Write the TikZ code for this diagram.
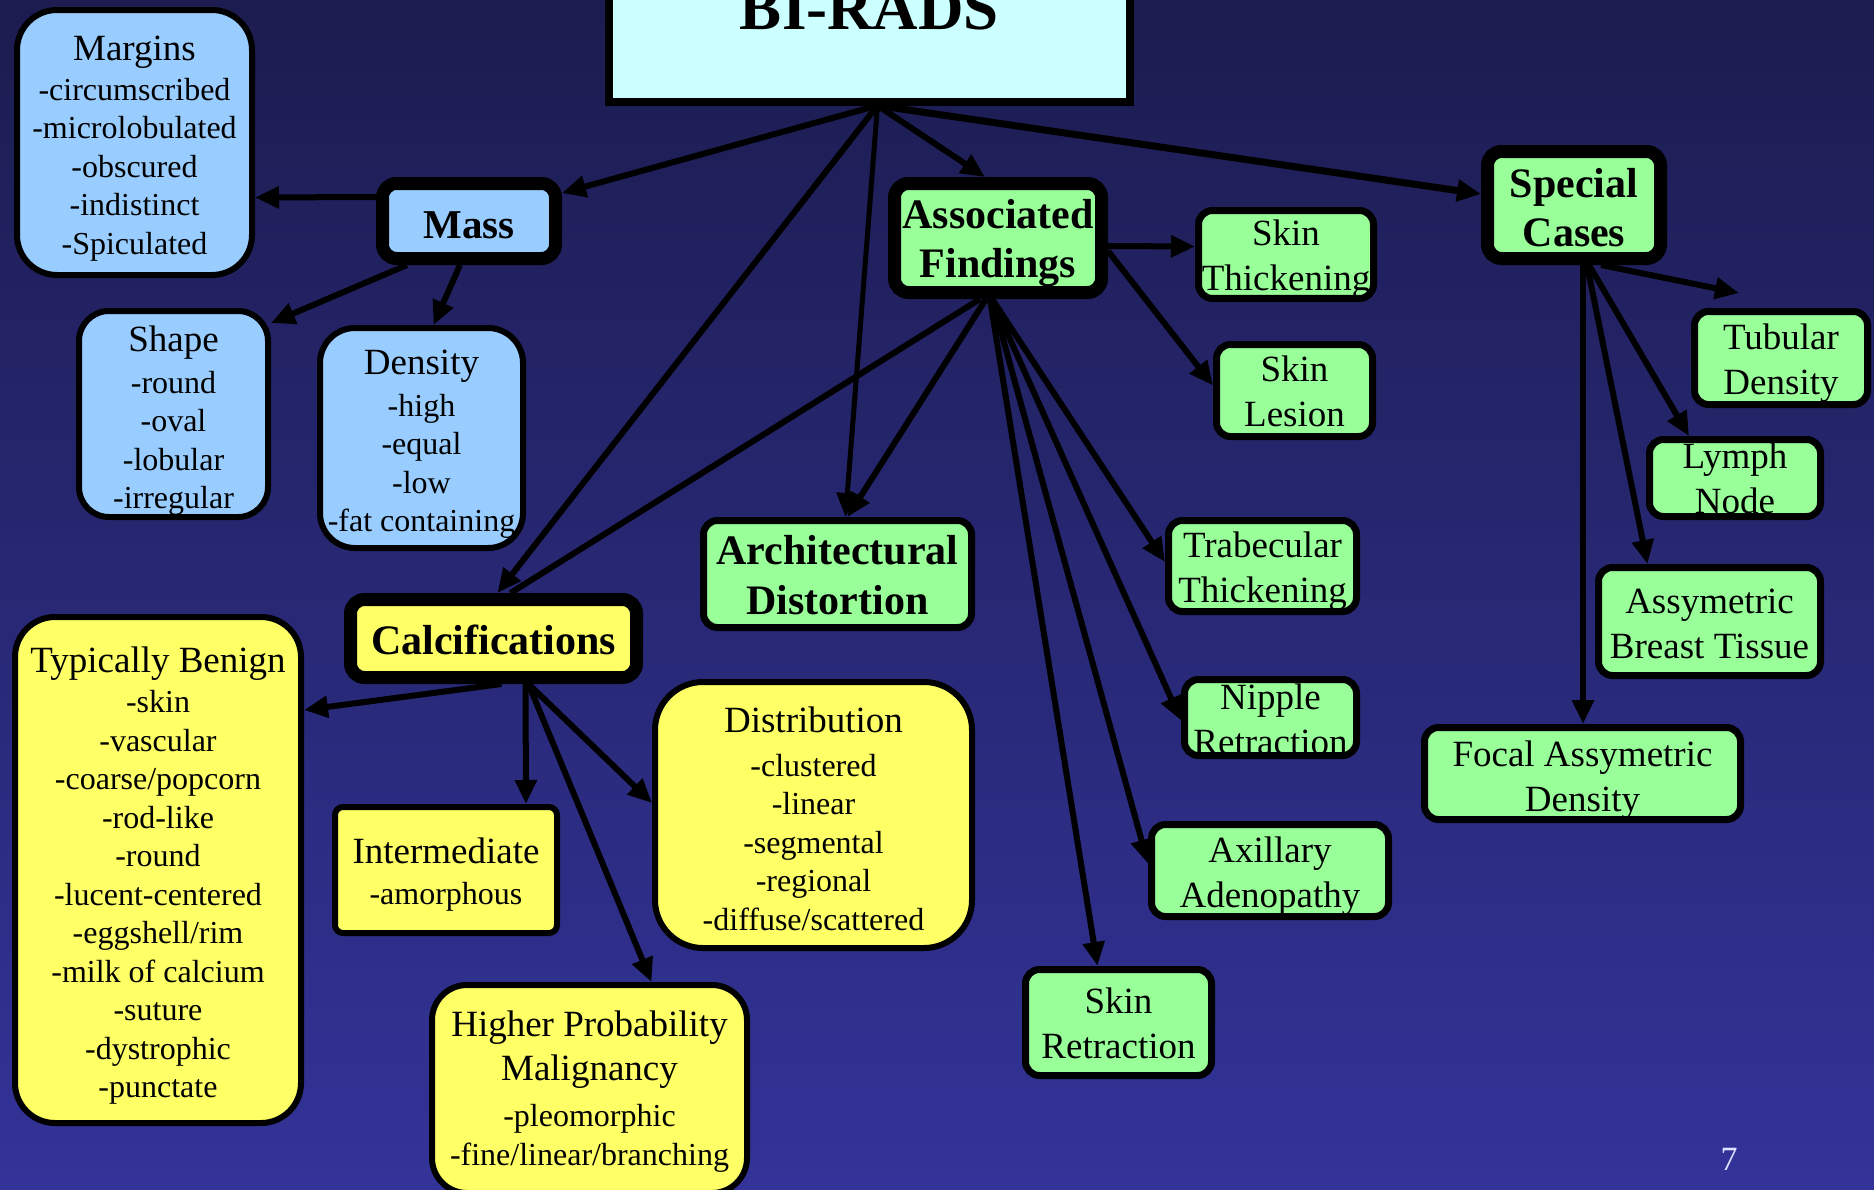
\documentclass[tikz,border=0pt]{standalone}
\usepackage{fontspec}
\setmainfont{Liberation Serif}
\usetikzlibrary{arrows.meta}
\definecolor{bgtop}{HTML}{1C1C50}
\definecolor{bgbot}{HTML}{333399}
\definecolor{cyanbox}{HTML}{CCFFFF}
\definecolor{bluebox}{HTML}{99CCFF}
\definecolor{yelbox}{HTML}{FFFF66}
\definecolor{grnbox}{HTML}{99FF99}
\newcommand{\hdr}[1]{{\fontsize{37}{40}\selectfont #1}}
\newcommand{\lift}[1]{\rule{0pt}{#1pt}}
\begin{document}
\begin{tikzpicture}[x=1pt,y=-1pt,
  thinbox/.style={draw=black, line width=6pt, inner sep=0pt, align=center, font=\fontsize{32}{38.5}\selectfont},
  greenbox/.style={draw=black, line width=7pt, fill=grnbox, rounded corners=14pt, inner sep=0pt, align=center, font=\fontsize{37}{45}\selectfont},
  thickbox/.style={draw=black, line width=13pt, rounded corners=14pt, inner sep=0pt, align=center, font=\bfseries\fontsize{42}{49}\selectfont},
  arr/.style={draw=black, line width=6pt, -{Triangle[length=24pt,width=21pt]}},
  plainline/.style={draw=black, line width=6pt}]
\useasboundingbox (0,0) rectangle (1874,1189);
\begin{scope}
\clip (0,0) rectangle (1874,1189);
\shade[top color=bgtop, bottom color=bgbot] (0,0) rectangle (1874,1189);

% top node
\node[draw=black, line width=8pt, fill=cyanbox, minimum width=521pt, inner sep=0pt,
      text height=91pt, text depth=72pt, font=\bfseries\fontsize{63}{70}\selectfont] (birads) at (869.5,20) {BI-RADS};

% mass branch
\node[thinbox, fill=bluebox, rounded corners=40pt, minimum width=235pt, minimum height=265pt] (margins) at (134.5,142.5)
  {\hdr{\lift{37}Margins}\\[1pt]-circumscribed\\-microlobulated\\-obscured\\-indistinct\\-Spiculated};
\node[thickbox, fill=bluebox, minimum width=173pt, minimum height=75pt, font=\bfseries\fontsize{41}{48}\selectfont] (mass) at (469,221) {\lift{36}Mass};
\node[thinbox, fill=bluebox, rounded corners=30pt, minimum width=189pt, minimum height=206pt] (shp) at (173.5,414)
  {\hdr{\lift{39}Shape}\\[3pt]-round\\-oval\\-lobular\\-irregular};
\node[thinbox, fill=bluebox, rounded corners=35pt, minimum width=203pt, minimum height=220pt] (dens) at (421.5,438)
  {\hdr{\lift{37}Density}\\[3pt]-high\\-equal\\-low\\-fat containing};

% calcifications branch
\node[thickbox, fill=yelbox, minimum width=286pt, minimum height=78pt] (calc) at (493.5,638.5) {\lift{33}Calcifications};
\node[thinbox, fill=yelbox, rounded corners=40pt, minimum width=286pt, minimum height=506pt] (benign) at (158,870)
  {\hdr{\lift{37}Typically Benign}\\[2pt]-skin\\-vascular\\-coarse/popcorn\\-rod-like\\-round\\-lucent-centered\\-eggshell/rim\\-milk of calcium\\-suture\\-dystrophic\\-punctate};
\node[thinbox, fill=yelbox, rounded corners=8pt, minimum width=222pt, minimum height=126pt] (inter) at (446,870)
  {\hdr{\lift{35}Intermediate}\\[3pt]-amorphous};
\node[thinbox, fill=yelbox, rounded corners=35pt, minimum width=315pt, minimum height=208pt] (higher) at (589.5,1089)
  {\hdr{\lift{31}Higher Probability}\\[5pt]\hdr{Malignancy}\\[8pt]-pleomorphic\\-fine/linear/branching};
\node[thinbox, fill=yelbox, rounded corners=48pt, minimum width=317pt, minimum height=266pt] (dist) at (813.5,815)
  {\hdr{\lift{33}Distribution}\\[5pt]-clustered\\-linear\\-segmental\\-regional\\-diffuse/scattered};

% associated findings branch
\node[greenbox, font=\bfseries\fontsize{42}{50}\selectfont, minimum width=268pt, minimum height=107pt] (arch) at (837.5,574) {\lift{32}Architectural\\Distortion};
\node[thickbox, fill=grnbox, minimum width=207pt, minimum height=109pt] (assoc) at (998,238) {\lift{40}Associated\\Findings};
\node[greenbox, minimum width=175pt, minimum height=76pt] (skthick) at (1286,254.5) {\lift{35}Skin\\Thickening};
\node[greenbox, minimum width=156pt, minimum height=92pt] (sklesion) at (1294.5,390.5) {\lift{27}Skin\\Lesion};
\node[greenbox, minimum width=188pt, minimum height=91pt] (trab) at (1262.5,566) {\lift{35}Trabecular\\Thickening};
\node[greenbox, minimum width=172pt, minimum height=76pt] (nipple) at (1270.5,717.5) {\lift{29}Nipple\\Retraction};
\node[greenbox, minimum width=237pt, minimum height=92pt] (axil) at (1270,870.5) {\lift{37}Axillary\\Adenopathy};
\node[greenbox, minimum width=186pt, minimum height=106pt] (skret) at (1118.5,1022.5) {\lift{27}Skin\\Retraction};

% special cases branch
\node[thickbox, fill=grnbox, minimum width=173pt, minimum height=107pt] (special) at (1574,205) {\lift{34}Special\\Cases};
\node[greenbox, minimum width=173pt, minimum height=93pt] (tubular) at (1781,358) {\lift{35}Tubular\\Density};
\node[greenbox, minimum width=171pt, minimum height=77pt] (lymph) at (1735,478) {Lymph\\Node};
\node[greenbox, minimum width=222pt, minimum height=108pt] (assym) at (1709.5,621.5) {\lift{29}Assymetric\\Breast Tissue};
\node[greenbox, minimum width=316pt, minimum height=92pt] (focal) at (1582.5,773.5) {\lift{38}Focal Assymetric\\Density};

\coordinate (tubend) at ([xshift=-42pt,yshift=15pt]tubular.north);

% connectors from BI-RADS
\draw[arr] ([xshift=8pt]birads.south) -- ([yshift=28pt]mass.east);
\draw[arr] ([xshift=8pt]birads.south) -- ([xshift=4pt]calc.north);
\draw[arr, line width=5pt] ([xshift=8pt]birads.south) -- ([xshift=8pt]arch.north);
\draw[arr] ([xshift=8pt]birads.south) -- ([xshift=-13pt]assoc.north);
\draw[arr, line width=7pt] ([xshift=8pt]birads.south) -- ([yshift=11pt]special.west);

% connectors from Mass
\draw[arr] ([yshift=24pt]mass.west) -- ([yshift=-55pt]margins.east);
\draw[arr] ([xshift=-62pt]mass.south) -- ([yshift=-15pt]shp.north east);
\draw[arr] ([xshift=-9pt]mass.south) -- ([xshift=12pt]dens.north);

% connectors from Associated Findings
\draw[arr] ([yshift=-8pt]assoc.east) -- ([yshift=8pt]skthick.west);
\draw[arr] ([yshift=-13pt]assoc.east) -- ([yshift=5pt]sklesion.west);
\draw[plainline] ([xshift=-18pt]assoc.south) -- ([xshift=17pt]calc.north);
\draw[arr] ([xshift=-12pt]assoc.south) -- ([xshift=10pt]arch.north);
\draw[arr] ([xshift=-6pt]assoc.south) -- ([yshift=4pt]trab.west);
\draw[arr] ([xshift=-6pt]assoc.south) -- ([yshift=-3pt]nipple.west);
\draw[arr] ([xshift=-6pt]assoc.south) -- ([yshift=7pt]axil.west);
\draw[arr] ([xshift=-8pt]assoc.south) -- ([xshift=-21pt]skret.north);

% connectors from Special Cases
\draw[arr] ([xshift=27pt]special.south) -- (tubend);
\draw[arr] ([xshift=15pt]special.south) -- ([xshift=-46pt]lymph.north);
\draw[arr] ([xshift=13pt]special.south) -- ([xshift=-62pt]assym.north);
\draw[arr] ([xshift=9pt]special.south) -- ([xshift=0.5pt]focal.north);

% connectors from Calcifications
\draw[arr] ([xshift=8pt]calc.south) -- ([yshift=-96pt]benign.north east);
\draw[arr] ([xshift=32pt]calc.south) -- ([xshift=80pt]inter.north);
\draw[arr] ([xshift=35pt]calc.south) -- ([yshift=12pt]dist.west);
\draw[arr] ([xshift=35pt]calc.south) -- ([xshift=62pt]higher.north);

\node[text=white!88!blue, font=\fontsize{34}{40}\selectfont, inner sep=0pt] (pg) at (1729,1159) {7};
\end{scope}
\end{tikzpicture}
\end{document}
